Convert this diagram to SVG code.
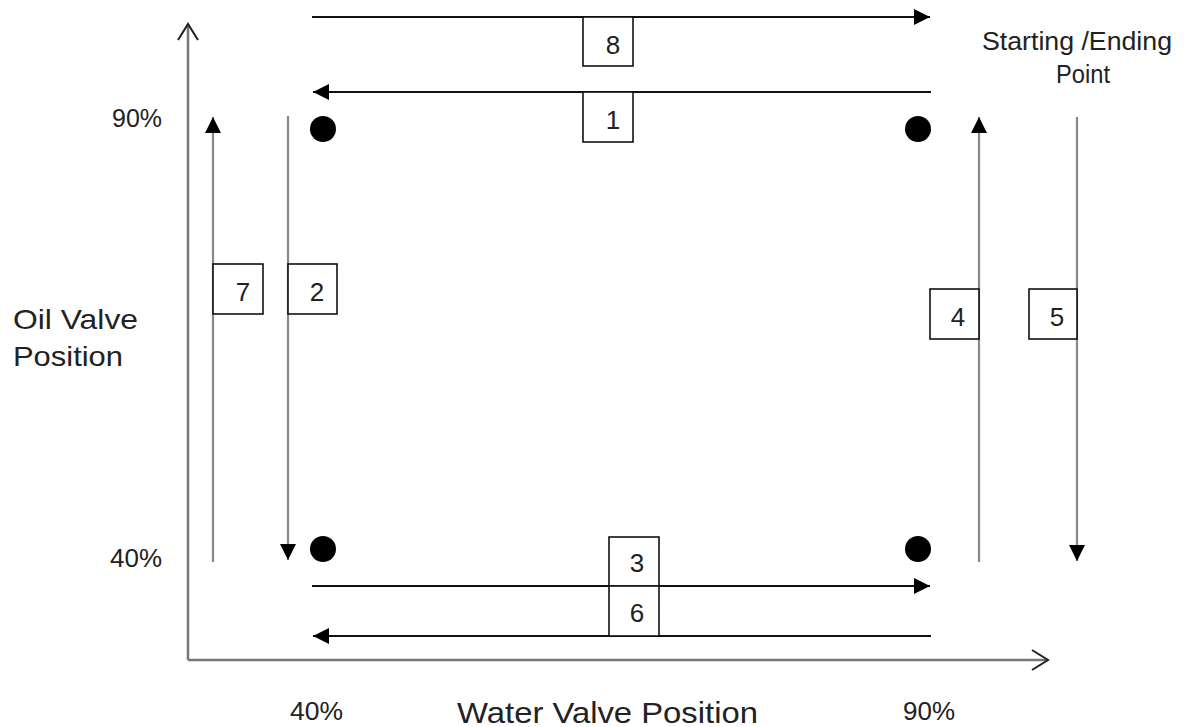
<svg xmlns="http://www.w3.org/2000/svg" width="1186" height="727" viewBox="0 0 1186 727">
<style>
text{font-family:"Liberation Sans",Arial,sans-serif;fill:#222}
.lbl{font-size:26px}
.num{font-size:26px;text-anchor:middle}
.box{fill:#fff;stroke:#111;stroke-width:1.6}
.h{stroke:#111;stroke-width:1.8;fill:none}
.v{stroke:#888;stroke-width:2.2;fill:none}
.axis{stroke:#777;stroke-width:2.5;fill:none}
.dot{fill:#000}
</style>
<defs>
<marker id="ah" markerUnits="userSpaceOnUse" markerWidth="17" markerHeight="17" refX="16" refY="8" orient="auto">
<path d="M0,0 L16,8 L0,16 z" fill="#000"/>
</marker>
<marker id="open" markerUnits="userSpaceOnUse" markerWidth="22" markerHeight="24" refX="17" refY="11" orient="auto">
<path d="M1,1 L17,11 L1,21" fill="none" stroke="#222" stroke-width="2"/>
</marker>
</defs>
<g id="axes">
<path class="axis" d="M188,660 V24" marker-end="url(#open)"/>
<path class="axis" d="M188,660 H1048" marker-end="url(#open)"/>
</g>
<g id="connectors">
<path class="h" d="M312,17 H930" marker-end="url(#ah)"/>
<path class="h" d="M931,92 H313" marker-end="url(#ah)"/>
<path class="h" d="M312,586 H930" marker-end="url(#ah)"/>
<path class="h" d="M931,636 H313" marker-end="url(#ah)"/>
<path class="v" d="M213,562 V117" marker-end="url(#ah)"/>
<path class="v" d="M288,116 V560" marker-end="url(#ah)"/>
<path class="v" d="M979,562 V117" marker-end="url(#ah)"/>
<path class="v" d="M1077,117 V561" marker-end="url(#ah)"/>
</g>
<g id="dot-tl"><circle class="dot" cx="323" cy="129" r="13"/></g>
<g id="dot-tr"><circle class="dot" cx="918" cy="129" r="13"/></g>
<g id="dot-bl"><circle class="dot" cx="323" cy="549" r="13"/></g>
<g id="dot-br"><circle class="dot" cx="918" cy="549" r="13"/></g>
<g id="box8"><rect class="box" x="583" y="17" width="50" height="49"/><text class="num" x="613" y="54">8</text></g>
<g id="box1"><rect class="box" x="583" y="92" width="50" height="50"/><text class="num" x="613" y="129">1</text></g>
<g id="box7"><rect class="box" x="213" y="264" width="50" height="50"/><text class="num" x="243" y="301">7</text></g>
<g id="box2"><rect class="box" x="288" y="264" width="49" height="50"/><text class="num" x="317" y="301">2</text></g>
<g id="box4"><rect class="box" x="930" y="289" width="49" height="50"/><text class="num" x="958" y="326">4</text></g>
<g id="box5"><rect class="box" x="1029" y="289" width="48" height="50"/><text class="num" x="1057" y="326">5</text></g>
<g id="box3"><rect class="box" x="609" y="537" width="50" height="49"/><text class="num" x="637" y="572">3</text></g>
<g id="box6"><rect class="box" x="609" y="586" width="50" height="50"/><text class="num" x="637" y="622">6</text></g>
<g id="labels">
<text class="lbl" x="112" y="127" textLength="50" lengthAdjust="spacingAndGlyphs">90%</text>
<text class="lbl" x="110" y="567" textLength="52" lengthAdjust="spacingAndGlyphs">40%</text>
<text x="13" y="329" style="font-size:28px" textLength="125" lengthAdjust="spacingAndGlyphs">Oil Valve</text>
<text x="13" y="366" style="font-size:28px" textLength="110" lengthAdjust="spacingAndGlyphs">Position</text>
<text class="lbl" x="290" y="720" textLength="53" lengthAdjust="spacingAndGlyphs">40%</text>
<text x="457" y="723" style="font-size:29px" textLength="301" lengthAdjust="spacingAndGlyphs">Water Valve Position</text>
<text class="lbl" x="903" y="720" textLength="52" lengthAdjust="spacingAndGlyphs">90%</text>
<text x="982" y="50" style="font-size:25px" textLength="190" lengthAdjust="spacingAndGlyphs">Starting /Ending</text>
<text x="1056" y="83" style="font-size:25px" textLength="54" lengthAdjust="spacingAndGlyphs">Point</text>
</g>
</svg>
